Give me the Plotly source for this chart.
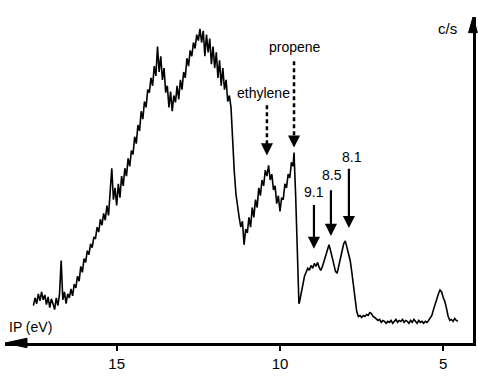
import plotly.graph_objects as go

# ---- spectrum data (ionisation potential in eV, counts per second, arbitrary units) ----
ip_values = [
    17.55, 17.50, 17.45, 17.40, 17.35, 17.30, 17.25, 17.20, 17.15, 17.10, 17.05, 17.00,
    16.95, 16.90, 16.85, 16.80, 16.75, 16.70, 16.65, 16.60, 16.55, 16.50, 16.45, 16.40,
    16.35, 16.30, 16.25, 16.20, 16.15, 16.10, 16.05, 16.00, 15.95, 15.90, 15.85, 15.80,
    15.75, 15.70, 15.65, 15.60, 15.55, 15.50, 15.45, 15.40, 15.35, 15.30, 15.25, 15.20,
    15.15, 15.10, 15.05, 15.00, 14.95, 14.90, 14.85, 14.80, 14.75, 14.70, 14.65, 14.60,
    14.55, 14.50, 14.45, 14.40, 14.35, 14.30, 14.25, 14.20, 14.15, 14.10, 14.05, 14.00,
    13.95, 13.90, 13.85, 13.80, 13.75, 13.70, 13.65, 13.60, 13.55, 13.50, 13.45, 13.40,
    13.35, 13.30, 13.25, 13.20, 13.15, 13.10, 13.05, 13.00, 12.95, 12.90, 12.85, 12.80,
    12.75, 12.70, 12.65, 12.60, 12.55, 12.50, 12.45, 12.40, 12.35, 12.30, 12.25, 12.20,
    12.15, 12.10, 12.05, 12.00, 11.95, 11.90, 11.85, 11.80, 11.75, 11.70, 11.65, 11.60,
    11.55, 11.50, 11.45, 11.40, 11.35, 11.30, 11.25, 11.20, 11.15, 11.10, 11.05, 11.00,
    10.95, 10.90, 10.85, 10.80, 10.75, 10.70, 10.65, 10.60, 10.55, 10.50, 10.45, 10.40,
    10.35, 10.30, 10.25, 10.20, 10.15, 10.10, 10.05, 10.00, 9.95, 9.90, 9.85, 9.80,
    9.75, 9.70, 9.65, 9.60, 9.57, 9.52, 9.48, 9.45, 9.42,
    9.40, 9.35, 9.30, 9.25, 9.20, 9.15, 9.10, 9.05, 9.00, 8.95, 8.90, 8.85,
    8.80, 8.75, 8.70, 8.65, 8.60, 8.55, 8.50, 8.45, 8.40, 8.35, 8.30, 8.25,
    8.20, 8.15, 8.10, 8.05, 8.00, 7.95, 7.90, 7.85, 7.80, 7.75, 7.70, 7.65,
    7.60, 7.55, 7.50, 7.45, 7.40, 7.35, 7.30, 7.25, 7.20, 7.15, 7.10, 7.05,
    7.00, 6.95, 6.90, 6.85, 6.80, 6.75, 6.70, 6.65, 6.60, 6.55, 6.50, 6.45,
    6.40, 6.35, 6.30, 6.25, 6.20, 6.15, 6.10, 6.05, 6.00, 5.95, 5.90, 5.85,
    5.80, 5.75, 5.70, 5.65, 5.60, 5.55, 5.50, 5.45, 5.40, 5.35, 5.30, 5.25,
    5.20, 5.15, 5.10, 5.05, 5.00, 4.95, 4.90, 4.85, 4.80, 4.75, 4.70, 4.65,
    4.60, 4.55,
]
counts = [
    38, 46, 40, 50, 43, 52, 44, 49, 39, 47, 36, 45,
    40, 34, 46, 38, 50, 84, 44, 52, 40, 50, 46, 55,
    48, 60, 56, 68, 63, 78, 72, 86, 82, 94, 90, 101,
    97, 108, 106, 118, 113, 126, 120, 132, 125, 140, 130, 156,
    178, 146, 158, 140, 162, 148, 170, 160, 178, 170, 188, 180,
    196, 192, 210, 203, 222, 216, 236, 228, 246, 240, 258, 255,
    270, 262, 282, 272, 302, 276, 292, 268, 280, 255, 262, 240,
    256, 236, 252, 245, 262, 248, 268, 258, 276, 270, 290, 282,
    298, 292, 306, 300, 314, 308, 320, 306, 318, 292, 314, 296,
    310, 284, 302, 280, 296, 270, 288, 262, 280, 258, 268, 246,
    252, 240, 200, 175, 152, 138, 128, 118, 124, 100, 116, 112,
    128, 118, 138, 128, 146, 138, 158, 150, 166, 160, 176, 170,
    181, 166, 172, 156, 160, 142, 150, 134, 148, 146, 162, 158,
    172, 168, 184, 180, 194, 150, 100, 60, 40,
    42, 52, 62, 68, 72, 76, 74, 79, 76, 81, 78, 82,
    77, 74, 78, 84, 90, 96, 100, 94, 86, 79, 73, 71,
    78, 88, 95, 101, 104, 98, 90, 84, 72, 58, 44, 32,
    27, 28, 26, 28, 27, 29, 28, 31, 30, 27, 26, 24,
    23, 24, 21, 23, 22, 20, 22, 21, 23, 20, 22, 24,
    21, 23, 22, 24, 21, 23, 22, 20, 23, 21, 24, 22,
    20, 23, 21, 22, 20, 22, 21, 23, 25, 28, 34, 40,
    46, 50, 54, 52, 46, 42, 35, 27, 23, 24, 22, 25,
    23, 22,
]

# ---- axis ticks ----
tick_values = [15, 10, 5]
tick_labels = ["15", "10", "5"]
x_range = [18.42, 4.09]
y_range = [0, 332]

# ---- peak annotations ----
label_texts = ["propene", "ethylene", "9.1", "8.5", "8.1"]
label_ip = [9.54, 10.52, 8.97, 8.42, 7.79]
label_h = [301, 255, 154, 171, 189]
arrow_ip = [9.57, 10.40, 8.96, 8.44, 7.89]
arrow_tail_h = [287, 242, 142, 157, 179]
arrow_tip_h = [199, 191, 96, 109, 117]
arrow_dashed = [True, True, False, False, False]

FONT = "Liberation Sans, Arial, Helvetica, sans-serif"

fig = go.Figure()
fig.add_trace(go.Scatter(
    x=ip_values, y=counts, mode="lines",
    line=dict(color="black", width=1.6),
    hoverinfo="skip", showlegend=False,
))

annotations = []
shapes = []
for txt, lx, ly, ax_, tail, tip, dashed in zip(label_texts, label_ip, label_h,
                                               arrow_ip, arrow_tail_h, arrow_tip_h, arrow_dashed):
    annotations.append(dict(x=lx, y=ly, xref="x", yref="y", text=txt, showarrow=False,
                            font=dict(family=FONT, size=14, color="black"),
                            xanchor="center", yanchor="middle"))
    if dashed:
        shapes.append(dict(type="line", xref="x", yref="y", x0=ax_, x1=ax_, y0=tail, y1=tip + 6,
                           line=dict(color="black", width=2.5, dash="4px,3px")))
        annotations.append(dict(x=ax_, y=tip, ax=ax_, ay=tip + 10, xref="x", yref="y",
                                axref="x", ayref="y", text="", showarrow=True,
                                arrowhead=2, arrowsize=1.1, arrowwidth=2.2, arrowcolor="black"))
    else:
        annotations.append(dict(x=ax_, y=tip, ax=ax_, ay=tail, xref="x", yref="y",
                                axref="x", ayref="y", text="", showarrow=True,
                                arrowhead=2, arrowsize=1.1, arrowwidth=2.2, arrowcolor="black"))

# axis titles
annotations.append(dict(x=4.86, y=320, xref="x", yref="y", text="c/s", showarrow=False,
                        font=dict(family=FONT, size=15, color="black"),
                        xanchor="center", yanchor="middle"))
annotations.append(dict(x=17.63, y=16, xref="x", yref="y", text="IP (eV)", showarrow=False,
                        font=dict(family=FONT, size=14, color="black"),
                        xanchor="center", yanchor="middle"))

# axis arrowheads (paper coordinates)
shapes.append(dict(type="path", xref="paper", yref="paper",
                   path="M 0,0 L 0.047,0.0145 L 0.047,-0.0145 Z",
                   fillcolor="black", line=dict(color="black", width=1)))
shapes.append(dict(type="path", xref="paper", yref="paper",
                   path="M 1,1.0 L 0.9905,0.952 L 1.0095,0.952 Z",
                   fillcolor="black", line=dict(color="black", width=1)))

fig.update_layout(
    width=478, height=377,
    margin=dict(l=5, r=5, t=17, b=28, pad=0),
    paper_bgcolor="white", plot_bgcolor="white",
    annotations=annotations, shapes=shapes,
    showlegend=False,
    xaxis=dict(range=x_range, tickvals=tick_values, ticktext=tick_labels,
               showline=True, linecolor="black", linewidth=2.5, mirror=False,
               ticks="outside", ticklen=5, tickwidth=2, tickcolor="black",
               showgrid=False, zeroline=False,
               tickfont=dict(family=FONT, size=15, color="black")),
    yaxis=dict(range=y_range, side="right", showline=True, linecolor="black", linewidth=2.5,
               showticklabels=False, ticks="", showgrid=False, zeroline=False),
)

fig.write_html("out.html", config={"displayModeBar": False},
               post_script="document.body.style.margin='0';")
